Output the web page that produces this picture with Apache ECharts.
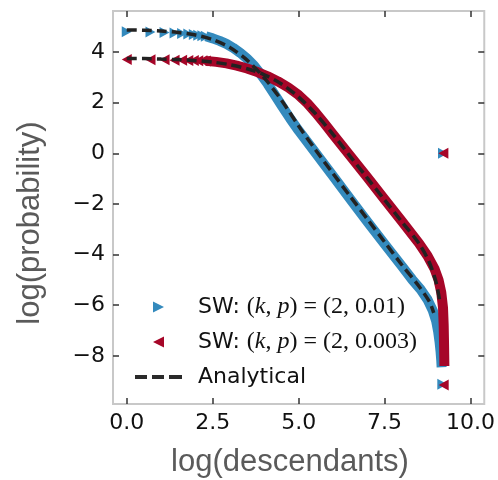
<!DOCTYPE html>
<html>
<head>
<meta charset="utf-8">
<script src="https://cdn.jsdelivr.net/npm/echarts@6/dist/echarts.min.js"></script>
<style>
html,body{margin:0;padding:0;background:#fff;}
#chart{width:498px;height:480px;}
</style>
</head>
<body>
<div id="chart"></div>
<script>
// ---- tick labels ----
const xTicks = [0, 2.5, 5, 7.5, 10];
const yTicks = [-8, -6, -4, -2, 0, 2, 4];

// ---- SW (k,p)=(2,0.01) : blue ----
const blueHeadX = [0, 0.69, 1.10, 1.39, 1.61, 1.79, 1.95, 2.08, 2.20, 2.30];
const blueHeadY = [4.80, 4.79, 4.77, 4.75, 4.73, 4.71, 4.69, 4.66, 4.64, 4.62];
const blueBandX = [2.30, 2.50, 2.70, 2.90, 3.10, 3.30, 3.50, 3.70, 3.90, 4.10, 4.30, 4.50, 4.75, 5.00, 5.50, 6.00, 6.50, 7.00, 7.50, 8.00, 8.30, 8.55, 8.75, 8.90, 9.00, 9.06, 9.10, 9.13, 9.15, 9.16];
const blueBandY = [4.62, 4.54, 4.44, 4.32, 4.16, 3.97, 3.74, 3.47, 3.12, 2.74, 2.32, 1.90, 1.38, 0.90, 0.00, -0.90, -1.80, -2.70, -3.58, -4.45, -4.98, -5.38, -5.78, -6.20, -6.62, -7.05, -7.45, -7.85, -8.20, -8.45];
const blueExtraX = [9.20, 9.18];
const blueExtraY = [0.00, -9.12];

// ---- SW (k,p)=(2,0.003) : red ----
const redHeadX = [0, 0.69, 1.10, 1.39, 1.61, 1.79, 1.95, 2.08, 2.20, 2.30];
const redHeadY = [3.70, 3.69, 3.69, 3.68, 3.68, 3.67, 3.67, 3.66, 3.66, 3.65];
const redBandX = [2.30, 2.60, 2.90, 3.20, 3.50, 3.80, 4.10, 4.40, 4.70, 5.00, 5.25, 5.50, 5.75, 6.00, 6.25, 6.50, 7.00, 7.50, 8.00, 8.50, 8.75, 8.95, 9.07, 9.15, 9.20, 9.22, 9.23, 9.24];
const redBandY = [3.65, 3.61, 3.55, 3.46, 3.35, 3.21, 3.04, 2.84, 2.60, 2.30, 1.98, 1.60, 1.18, 0.75, 0.32, -0.10, -0.95, -1.82, -2.68, -3.55, -4.05, -4.55, -5.00, -5.50, -6.10, -6.80, -7.50, -8.40];
const redExtraX = [9.21, 9.22];
const redExtraY = [0.00, -9.15];

// ---- Analytical ----
const anaBlueX = [0, 0.5, 1.0, 1.5, 2.0, 2.5, 3.0, 3.5, 4.0, 4.5, 5.0, 5.5, 6.0, 6.5, 7.0, 7.5, 8.0, 8.5, 8.8, 8.93];
const anaBlueY = [4.87, 4.86, 4.83, 4.77, 4.67, 4.49, 4.18, 3.68, 2.98, 2.10, 1.08, 0.12, -0.80, -1.70, -2.60, -3.50, -4.40, -5.25, -5.85, -6.30];
const anaRedX = [0, 0.5, 1.0, 1.5, 2.0, 2.5, 3.0, 3.5, 4.0, 4.5, 5.0, 5.5, 6.0, 6.5, 7.0, 7.5, 8.0, 8.5, 8.8, 9.0, 9.1];
const anaRedY = [3.74, 3.74, 3.72, 3.70, 3.66, 3.60, 3.50, 3.34, 3.10, 2.74, 2.22, 1.55, 0.75, -0.12, -0.98, -1.84, -2.70, -3.56, -4.30, -5.10, -5.80];

const zip = (a, b) => a.map((v, i) => [v, b[i]]);

const BLUE = '#348ABD', RED = '#A60628';
const RIGHT_TRI = 'path://M0,0L10,5L0,10Z';
const LEFT_TRI = 'path://M10,0L0,5L10,10Z';
const DASH_ICON = 'path://M0,0h12v4h-12zM17,0h12v4h-12zM34,0h13v4h-13z';
const S1 = 'SW1', S2 = 'SW2', AN = 'Analytical';

const tickStyle = {show: true, inside: true, length: 6, lineStyle: {color: '#333', width: 1.5}};
const labelFont = {fontFamily: 'DejaVu Sans', fontSize: 22, color: '#111'};

function xAx(pos, showLabel) {
  return {
    type: 'value', min: -0.4, max: 10.4, position: pos,
    axisLine: {show: false, onZero: false}, splitLine: {show: false},
    axisTick: Object.assign({customValues: xTicks}, tickStyle),
    axisLabel: Object.assign({show: showLabel, customValues: xTicks, margin: 8,
      formatter: v => v.toFixed(1)}, labelFont)
  };
}
function yAx(pos, showLabel) {
  return {
    type: 'value', min: -9.9, max: 5.62, position: pos,
    axisLine: {show: false, onZero: false}, splitLine: {show: false},
    axisTick: Object.assign({customValues: yTicks}, tickStyle),
    axisLabel: Object.assign({show: showLabel, customValues: yTicks, margin: 8,
      formatter: v => String(v).replace('-', '\u2212')}, labelFont)
  };
}

const chart = echarts.init(document.getElementById('chart'), null, {renderer: 'canvas'});
chart.setOption({
  animation: false,
  backgroundColor: '#fff',
  grid: {left: 113, right: 12, top: 11, bottom: 76, show: true, borderColor: '#c8c8c8', borderWidth: 2, backgroundColor: 'transparent'},
  xAxis: [xAx('bottom', true), xAx('top', false)],
  yAxis: [yAx('left', true), yAx('right', false)],
  legend: {
    orient: 'vertical', left: 130, top: 289,
    itemWidth: 47, itemHeight: 11, itemGap: 9,
    data: [
      {name: S1, icon: RIGHT_TRI, itemStyle: {color: BLUE}},
      {name: S2, icon: LEFT_TRI, itemStyle: {color: RED}},
      {name: AN, icon: DASH_ICON, itemStyle: {color: '#2a2a2a'}}
    ],
    formatter: function (name) {
      if (name === S1) return '{a|SW: }{m|(}{i|k}{m|, }{i|p}{m|) = (2, 0.01)}';
      if (name === S2) return '{a|SW: }{m|(}{i|k}{m|, }{i|p}{m|) = (2, 0.003)}';
      return '{t|Analytical}';
    },
    textStyle: {
      lineHeight: 26,
      rich: {
        a: {fontFamily: 'DejaVu Sans', fontSize: 22, color: '#111', padding: [0, 0, 0, 11]},
        t: {fontFamily: 'DejaVu Sans', fontSize: 22, color: '#111', padding: [0, 0, 0, 11]},
        m: {fontFamily: 'Liberation Serif', fontSize: 24, color: '#111'},
        i: {fontFamily: 'Liberation Serif', fontSize: 24, fontStyle: 'italic', color: '#111'}
      }
    }
  },
  graphic: [
    {type: 'text', x: 290, y: 462, style: {text: 'log(descendants)', fontFamily: 'Liberation Sans', fontSize: 31, fill: '#5a5a5a', align: 'center', verticalAlign: 'middle'}},
    {type: 'text', x: 30, y: 223, rotation: Math.PI / 2, style: {text: 'log(probability)', fontFamily: 'Liberation Sans', fontSize: 31, fill: '#5a5a5a', align: 'center', verticalAlign: 'middle'}}
  ],
  series: [
    {type: 'line', name: S1, data: zip(blueBandX, blueBandY), symbol: RIGHT_TRI, symbolSize: [10, 11], showSymbol: false,
      itemStyle: {color: BLUE}, lineStyle: {color: BLUE, width: 10, cap: 'butt', join: 'round'}, z: 2},
    {type: 'scatter', name: S1, data: zip(blueHeadX, blueHeadY).concat(zip(blueExtraX, blueExtraY)), symbol: RIGHT_TRI, symbolSize: [10, 11],
      itemStyle: {color: BLUE, opacity: 1}, z: 2},
    {type: 'line', name: S2, data: zip(redBandX, redBandY), symbol: LEFT_TRI, symbolSize: [10, 11], showSymbol: false,
      itemStyle: {color: RED}, lineStyle: {color: RED, width: 10, cap: 'butt', join: 'round'}, z: 3},
    {type: 'scatter', name: S2, data: zip(redHeadX, redHeadY).concat(zip(redExtraX, redExtraY)), symbol: LEFT_TRI, symbolSize: [10, 11],
      itemStyle: {color: RED, opacity: 1}, z: 3},
    {type: 'line', name: AN, data: zip(anaBlueX, anaBlueY), symbol: 'none', smooth: 0.3,
      itemStyle: {color: '#222'}, lineStyle: {color: '#222', width: 3.5, type: [10, 5]}, z: 4},
    {type: 'line', name: AN, data: zip(anaRedX, anaRedY), symbol: 'none', smooth: 0.3,
      itemStyle: {color: '#222'}, lineStyle: {color: '#222', width: 3.5, type: [10, 5]}, z: 4}
  ]
});
</script>
</body>
</html>
